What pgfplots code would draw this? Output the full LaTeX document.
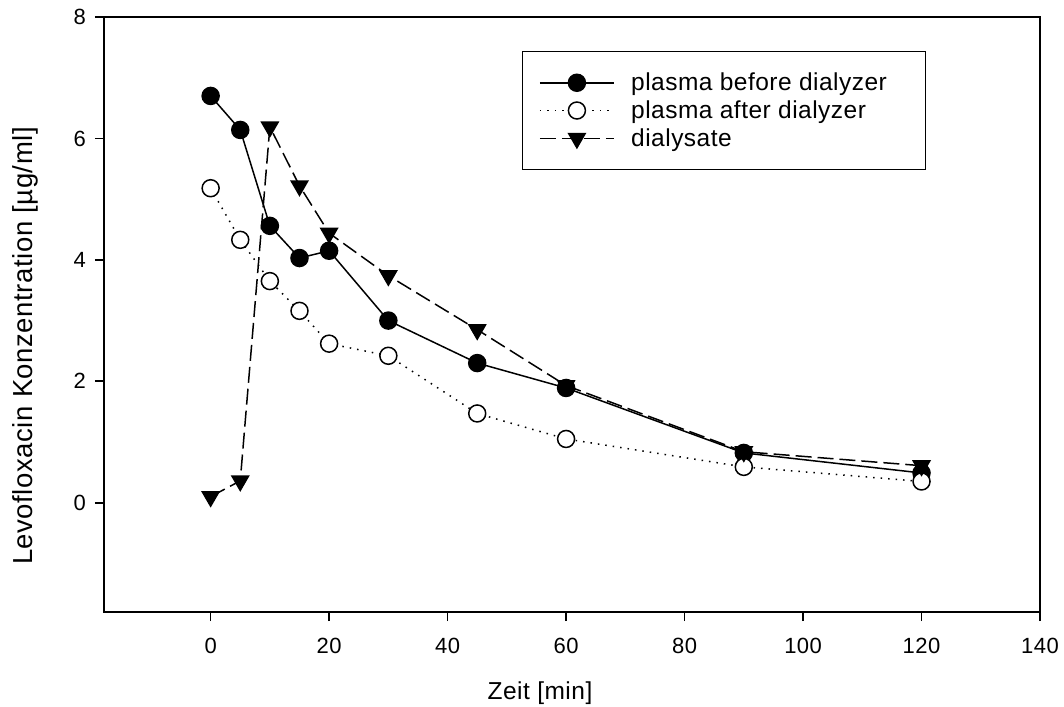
\documentclass[border=0pt]{standalone}
\usepackage{fontspec}
\setmainfont{Liberation Sans}[LetterSpace=2]
\usepackage{pgfplots}
\pgfplotsset{compat=1.18}
\begin{document}
\begin{tikzpicture}
\path[use as bounding box] (-104pt,-94pt) rectangle (960pt,612pt);
\begin{axis}[
  at={(0pt,0pt)}, anchor=south west,
  scale only axis, width=936pt, height=595pt,
  xmin=-18, xmax=140, ymin=-1.8, ymax=8,
  xtick={0,20,...,140}, ytick={0,2,...,8},
  tick pos=left, tick align=outside, major tick length=9pt,
  axis line style={line width=1.6pt},
  every tick/.style={line width=1.6pt, black},
  tick label style={font=\fontsize{22}{26}\selectfont},
  /pgf/number format/assume math mode=true,
  xticklabel style={yshift=-14pt},
  yticklabel style={xshift=-5.7pt},
  every axis x label/.style={at={(axis description cs:0.5,0)}, xshift=-32pt, yshift=-81.5pt, anchor=center, font=\fontsize{24.5}{28}\selectfont},
  every axis y label/.style={at={(axis description cs:0,0.5)}, xshift=-79pt, yshift=-31.5pt, rotate=90, anchor=center, font=\fontsize{27.5}{31}\selectfont},
  xlabel={Zeit [min]},
  ylabel={Levofloxacin Konzentration [µg/ml]},
  legend style={at={(axis description cs:0.4466,0.9429)}, anchor=north west,
    draw=black, line width=1.3pt, font=\fontsize{24.5}{28}\selectfont,
    inner xsep=16.5pt, inner ysep=19pt, row sep=3.5pt, column sep=12pt,
    nodes={inner xsep=4.5pt, inner ysep=2.5pt}},
  legend cell align=left,
  legend image code/.code={\draw[mark repeat=2,mark phase=2,#1] plot coordinates {(0pt,0pt) (37pt,0pt) (74pt,0pt)};},
]
\addplot[black, line width=1.5pt, mark=*, mark size=8.5pt, mark options={solid, fill=black}]
coordinates {(0,6.70) (5,6.14) (10,4.56) (15,4.03) (20,4.15) (30,3.00) (45,2.30) (60,1.89) (90,0.82) (120,0.49)};
\addlegendentry{\makebox[273pt][l]{plasma before dialyzer}}
\addplot[black, line width=1.5pt, dash pattern=on 1.5pt off 6pt, mark=*, mark size=8.5pt, mark options={solid, fill=white, line width=1.5pt}]
coordinates {(0,5.18) (5,4.33) (10,3.65) (15,3.16) (20,2.62) (30,2.42) (45,1.47) (60,1.05) (90,0.59) (120,0.35)};
\addlegendentry{plasma after dialyzer}
\addplot[black, line width=1.5pt, dash pattern=on 16pt off 6pt, mark=triangle*, mark size=9.5pt, mark options={solid, fill=black, rotate=180}]
coordinates {(0,0.10) (5,0.36) (10,6.19) (15,5.22) (20,4.44) (30,3.74) (45,2.85) (60,1.93) (90,0.84) (120,0.61)};
\addlegendentry{dialysate}
\end{axis}
\end{tikzpicture}
\end{document}
